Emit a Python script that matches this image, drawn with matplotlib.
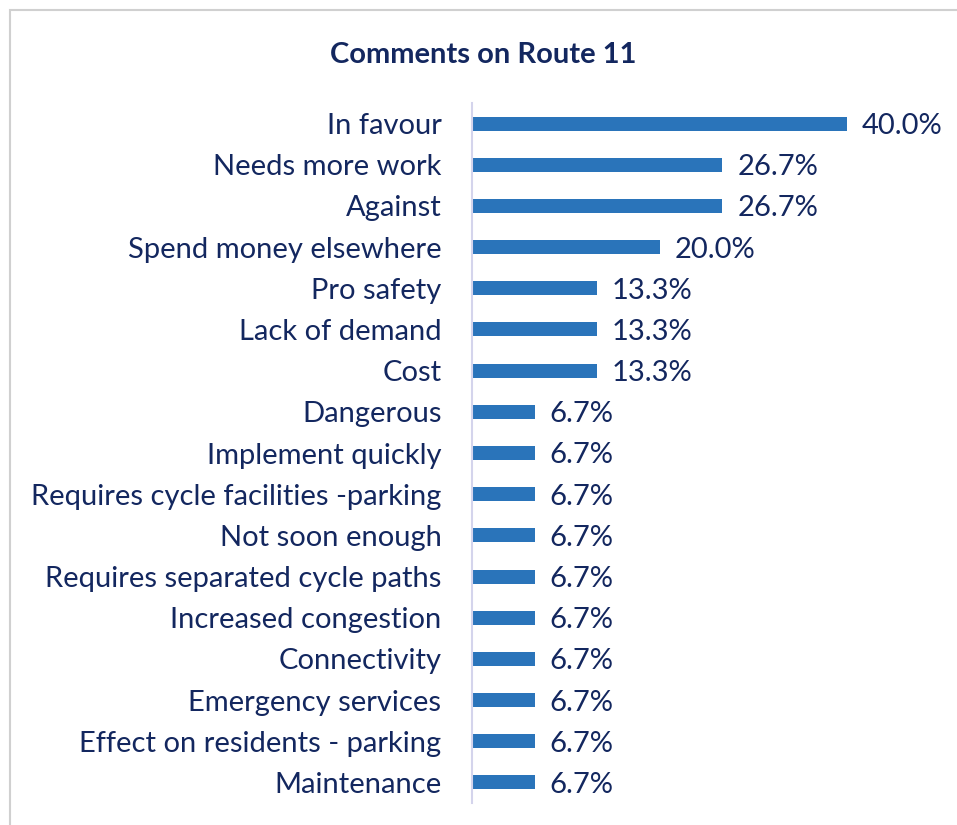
import matplotlib
matplotlib.use("Agg")
import matplotlib.pyplot as plt
from matplotlib.patches import Rectangle

categories = [
    "In favour",
    "Needs more work",
    "Against",
    "Spend money elsewhere",
    "Pro safety",
    "Lack of demand",
    "Cost",
    "Dangerous",
    "Implement quickly",
    "Requires cycle facilities -parking",
    "Not soon enough",
    "Requires separated cycle paths",
    "Increased congestion",
    "Connectivity",
    "Emergency services",
    "Effect on residents - parking",
    "Maintenance",
]
values = [40.0, 26.7, 26.7, 20.0, 13.3, 13.3, 13.3,
          6.7, 6.7, 6.7, 6.7, 6.7, 6.7, 6.7, 6.7, 6.7, 6.7]
title = "Comments on Route 11"

BAR = "#2A74BA"
TEXT = "#13275F"
FONT = ["Lato", "DejaVu Sans"]

W, H = 957, 825
fig = plt.figure(figsize=(W / 100, H / 100), dpi=100)

# chart area border (open on the right and bottom edges)
fig.patches.append(Rectangle((9.5 / W, -0.1), 2, 1.1 - 10.5 / H, transform=fig.transFigure,
                             fill=False, edgecolor="#D0D0D0", linewidth=1.5))

left, right = 472, 940.75
top, bottom = 103, 803
ax = fig.add_axes([left / W, 1 - bottom / H, (right - left) / W, (bottom - top) / H])

n = len(categories)
ypos = list(range(n))
ax.barh(ypos, values, height=0.34, color=BAR)
ax.set_ylim(n - 0.5, -0.5)
ax.set_xlim(0, 50)

for y, v in zip(ypos, values):
    ax.text(v + 1.6, y + 0.06, f"{v:.1f}%", va="center", ha="left",
            fontsize=21, color=TEXT, family=FONT)

ax.set_yticks(ypos)
ax.set_yticklabels(categories, fontsize=21, color=TEXT, family=FONT)
ax.tick_params(axis="y", length=0, pad=22)
ax.set_xticks([])
for s in ["top", "right", "bottom"]:
    ax.spines[s].set_visible(False)
ax.spines["left"].set_color("#D4D4EC")
ax.spines["left"].set_linewidth(1.5)

fig.text(483 / W, 1 - 55 / H, title, ha="center", va="center", fontsize=21,
         fontweight="bold", color=TEXT, family=FONT)

fig.savefig("out.png", dpi=100)
